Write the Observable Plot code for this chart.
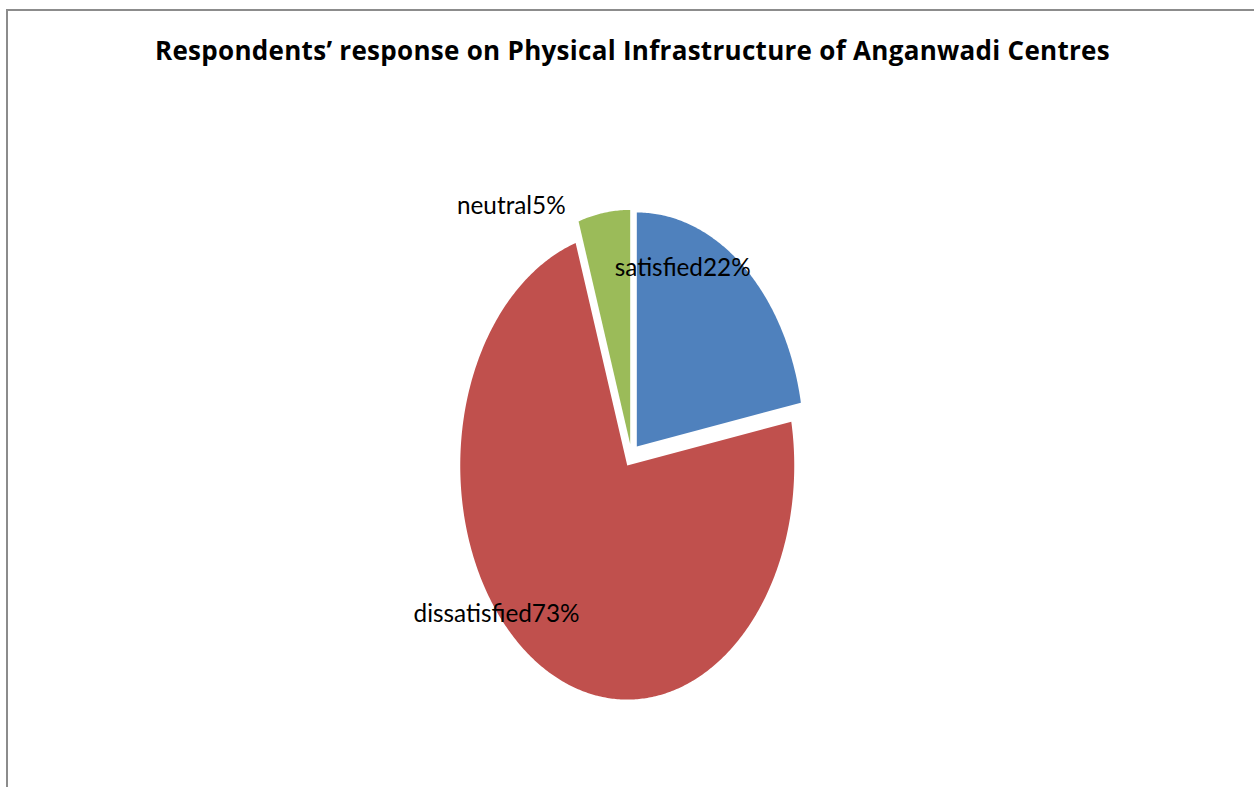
<!DOCTYPE html>
<html>
<head>
<meta charset="utf-8">
<script src="https://cdn.jsdelivr.net/npm/d3@7"></script>
<script src="https://cdn.jsdelivr.net/npm/@observablehq/plot@0.6"></script>
<style>
  html, body { margin: 0; padding: 0; background: #fff; overflow: hidden; }
  #frame { position: absolute; left: 6px; top: 9px; width: 1260px; height: 790px;
           border-top: 2px solid #8c8c8c; border-left: 2px solid #8c8c8c; }
  #title { position: absolute; left: 0; top: 35px; width: 1265px; text-align: center;
           font-family: "Open Sans", Lato, sans-serif; font-weight: bold; font-size: 26px;
           line-height: 30px; color: #000; white-space: nowrap; }
  #chart { position: absolute; left: 0; top: 100px; }
</style>
</head>
<body>
<div id="frame"></div>
<div id="title"><span id="titleText">Respondents’ response on Physical Infrastructure of Anganwadi Centres</span></div>
<div id="chart"></div>
<script>
// ---- data ----
const categories = ["satisfied", "dissatisfied", "neutral"];
const shares = [22, 73, 5];
const colors = ["#4F81BD", "#C0504D", "#9BBB59"];

// ---- layout (label anchors: angle in degrees clockwise from top, radius as fraction) ----
const labelAngles = [21, 230, 326];
const labelRadii = [0.855, 1.055, 1.287];
const explode = 0.05;

const rows = categories.map((c, i) => ({key: c, value: shares[i]}));
const arcs = d3.pie().sort(null).value(d => d.value)(rows);

const points = [];
arcs.forEach(a => {
  const mid = (a.startAngle + a.endAngle) / 2;
  const ox = explode * Math.sin(mid), oy = explode * Math.cos(mid);
  const key = a.data.key;
  points.push({key, x: ox, y: oy});
  const n = Math.max(8, Math.ceil((a.endAngle - a.startAngle) / 0.01));
  for (let i = 0; i <= n; i++) {
    const t = a.startAngle + (a.endAngle - a.startAngle) * i / n;
    points.push({key, x: ox + Math.sin(t), y: oy + Math.cos(t)});
  }
});

const labels = rows.map((r, i) => {
  const t = labelAngles[i] * Math.PI / 180;
  return {text: r.key + r.value + "%", x: labelRadii[i] * Math.sin(t), y: labelRadii[i] * Math.cos(t)};
});

const cx = 631, cy = 355, rx = 167, ry = 234;
const chart = Plot.plot({
  width: 1254,
  height: 687,
  margin: 0,
  style: {fontFamily: "Lato, 'Open Sans', sans-serif", background: "transparent"},
  x: {domain: [-1, 1], range: [cx - rx, cx + rx], axis: null},
  y: {domain: [-1, 1], range: [cy + ry, cy - ry], axis: null},
  color: {domain: categories, range: colors},
  marks: [
    Plot.line(points, {x: "x", y: "y", z: "key", fill: "key", stroke: "none", curve: "linear-closed"}),
    Plot.text(labels, {x: "x", y: "y", text: "text", fontSize: 24.3, fill: "#000"})
  ]
});
document.getElementById("chart").appendChild(chart);

// fit title to the reference's width
const tt = document.getElementById("titleText");
const w = tt.getBoundingClientRect().width;
const n = tt.textContent.length;
tt.style.letterSpacing = ((955 - w) / n).toFixed(3) + "px";
</script>
</body>
</html>
